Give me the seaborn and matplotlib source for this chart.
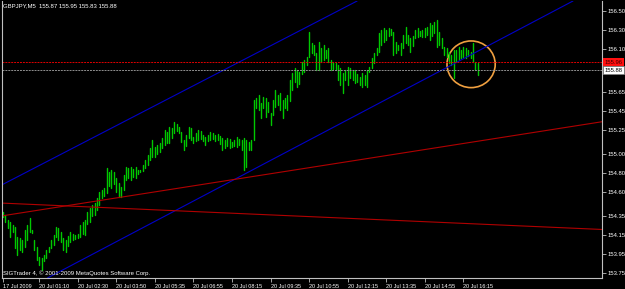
import numpy as np
import pandas as pd
import matplotlib
matplotlib.use("Agg")
import matplotlib.pyplot as plt
import matplotlib.transforms as mtransforms
from matplotlib.patches import Ellipse
import seaborn as sns

# ---------------- data ----------------
symbol_header = "GBPJPY,M5  155.87 155.95 155.83 155.88"
copyright_text = "SIGTrader 4, \u00a9 2001-2009 MetaQuotes Software Corp."

highs = [154.39,154.36,154.31,154.28,154.25,154.23,154.13,154.12,154.10,154.20,
         154.25,154.33,154.20,154.10,154.02,153.92,153.91,153.94,153.99,154.02,
         154.10,154.15,154.23,154.22,154.18,154.12,154.10,154.14,154.18,154.16,
         154.15,154.16,154.25,154.28,154.31,154.39,154.43,154.46,154.48,154.54,
         154.60,154.62,154.64,154.85,154.81,154.83,154.81,154.75,154.69,154.65,
         154.78,154.86,154.85,154.86,154.84,154.86,154.83,154.83,154.88,154.94,
         154.99,155.06,155.15,155.07,155.09,155.11,155.17,155.25,155.23,155.28,
         155.27,155.33,155.31,155.28,155.23,155.15,155.20,155.28,155.27,155.18,
         155.22,155.25,155.24,155.20,155.18,155.20,155.23,155.22,155.20,155.21,
         155.19,155.17,155.15,155.17,155.16,155.12,155.15,155.18,155.16,155.14,
         155.17,155.15,155.12,155.15,155.57,155.59,155.62,155.53,155.60,155.59,
         155.54,155.43,155.57,155.67,155.62,155.64,155.57,155.59,155.62,155.78,
         155.85,155.90,155.88,155.86,155.96,155.99,156.02,156.28,156.16,156.14,
         156.06,156.17,156.11,156.14,156.09,156.11,155.99,155.96,155.95,155.93,
         155.90,155.85,155.88,155.91,155.90,155.88,155.88,155.84,155.81,155.85,
         155.83,155.88,155.91,156.01,156.06,156.11,156.27,156.30,156.32,156.30,
         156.32,156.31,156.28,156.17,156.14,156.16,156.25,156.33,156.25,156.22,
         156.24,156.30,156.32,156.29,156.30,156.32,156.33,156.37,156.35,156.38,
         156.41,156.28,156.22,156.12,156.11,156.07,156.04,156.09,156.09,156.12,
         156.09,156.12,156.11,156.09,156.07,156.16,155.96,155.95]

lows = [154.34,154.28,154.22,154.13,154.18,154.01,153.94,153.99,153.97,154.02,
        154.10,154.18,154.17,153.99,153.89,153.83,153.78,153.87,153.91,153.97,
        154.01,154.04,154.13,154.10,154.07,153.99,153.97,154.03,154.07,154.10,
        154.11,154.12,154.13,154.16,154.15,154.26,154.28,154.35,154.36,154.41,
        154.46,154.54,154.56,154.59,154.66,154.64,154.68,154.60,154.55,154.55,
        154.62,154.73,154.75,154.73,154.76,154.75,154.79,154.81,154.82,154.85,
        154.88,154.94,154.97,154.97,155.00,155.02,155.06,155.09,155.11,155.11,
        155.17,155.22,155.24,155.22,155.12,155.04,155.08,155.17,155.15,155.11,
        155.13,155.15,155.16,155.13,155.09,155.13,155.15,155.16,155.13,155.14,
        155.10,155.04,155.06,155.08,155.06,155.07,155.08,155.07,155.09,155.04,
        154.83,154.86,155.04,155.04,155.15,155.48,155.46,155.38,155.48,155.39,
        155.44,155.30,155.41,155.49,155.51,155.46,155.38,155.48,155.46,155.55,
        155.67,155.75,155.70,155.73,155.84,155.86,155.93,156.02,156.06,156.04,
        155.88,155.88,155.96,155.99,156.01,155.96,155.88,155.89,155.88,155.78,
        155.72,155.64,155.78,155.72,155.80,155.78,155.74,155.75,155.72,155.70,
        155.72,155.70,155.86,155.90,155.95,156.04,156.07,156.14,156.17,156.20,
        156.24,156.25,156.04,156.06,156.09,156.04,156.11,156.16,156.14,156.07,
        156.13,156.22,156.23,156.24,156.23,156.23,156.25,156.20,156.24,156.27,
        156.12,156.14,156.11,156.04,156.02,155.95,155.93,155.80,155.96,155.99,
        156.01,156.02,156.01,156.03,156.01,155.96,155.88,155.83]

# time-axis labels (bar index -> label)
xtick_bars = [0, 15, 31, 47, 63, 79, 95, 111, 127, 143, 159, 175, 191]
xtick_labels = ["17 Jul 2009", "20 Jul 01:10", "20 Jul 02:30", "20 Jul 03:50",
                "20 Jul 05:35", "20 Jul 06:55", "20 Jul 08:15", "20 Jul 09:35",
                "20 Jul 10:55", "20 Jul 12:15", "20 Jul 13:35", "20 Jul 14:55",
                "20 Jul 16:15"]
ytick_prices = [156.50, 156.30, 156.10, 155.65, 155.45, 155.25, 155.00,
                154.80, 154.60, 154.35, 154.15, 153.95, 153.75]

# trend lines: (bar0, price0, bar1, price1)
blue_upper = (0, 154.68, 140, 156.514)
blue_lower = (0, 153.45, 200, 156.118)
red_rising = (0, 154.35, 240, 155.303)
red_falling = (0, 154.482, 240, 154.215)

ask_price = 155.96
bid_price = 155.88

# highlight circle (centre bar, centre price, width in bars, height in price)
circle_spec = (194.2, 155.94, 20.0, 0.49)

# ---------------- plotting ----------------
sns.set_theme(style="dark")
plt.rcParams["font.family"] = ["Liberation Sans", "DejaVu Sans"]

fig = plt.figure(figsize=(6.25, 2.89), dpi=100, facecolor="black")
ax = fig.add_axes([2 / 625, 11 / 289, 600 / 625, 277 / 289], facecolor="black")

n = len(highs)
bars = np.arange(n)
df = pd.DataFrame({
    "bar": np.repeat(bars, 2),
    "price": np.column_stack([highs, lows]).ravel(),
})
sns.lineplot(data=df, x="bar", y="price", units="bar", estimator=None,
             sort=False, color="#00c800", lw=1.0, ax=ax, legend=False)

for (b0, p0, b1, p1), col in [(blue_upper, "#0000c8"), (blue_lower, "#0000c8"),
                             (red_rising, "#b00000"), (red_falling, "#b00000")]:
    ax.axline((b0, p0), (b1, p1), color=col, lw=0.8)

ax.axhline(ask_price, color="#e00000", lw=0.7, ls=(0, (2, 1)))
ax.axhline(bid_price, color="#909090", lw=0.7, ls=(0, (2, 1)))

cx, cy, cw, ch = circle_spec
ax.add_patch(Ellipse((cx, cy), cw, ch, fill=False, ec="#f0a040", lw=1.2))

ax.set_xlim(-0.415, 248.5)
ax.set_ylim(153.696, 156.6045)
ax.set_xlabel("")
ax.set_ylabel("")
ax.grid(False)

ax.yaxis.tick_right()
ax.set_yticks(ytick_prices)
ax.set_yticklabels([f"{v:.2f}" for v in ytick_prices])
ax.tick_params(axis="y", colors="#c0c0c0", labelcolor="white", labelsize=4.2,
               length=3, width=0.6, pad=1.2, direction="out", right=True, left=False)

ax.set_xticks(xtick_bars)
ax.set_xticklabels(xtick_labels)
ax.tick_params(axis="x", colors="#c0c0c0", labelcolor="white", labelsize=4.0,
               length=3, width=0.6, pad=1.2, direction="out", bottom=True)
for lbl in ax.get_xticklabels():
    lbl.set_ha("left")

for side in ["left", "bottom", "right"]:
    ax.spines[side].set_visible(True)
    ax.spines[side].set_color("#c0c0c0")
    ax.spines[side].set_linewidth(0.8)
ax.spines["top"].set_visible(False)

fig.text(3 / 625, 1 - 6 / 289, symbol_header, color="white", fontsize=4.3,
         ha="left", va="center")
fig.text(3 / 625, 1 - 273 / 289, copyright_text, color="white", fontsize=4.3,
         ha="left", va="center")

tr = mtransforms.blended_transform_factory(ax.transAxes, ax.transData)
ax.text(1.004, ask_price, f"{ask_price:.2f}", transform=tr, color="#3a0000",
        fontsize=4.2, ha="left", va="center", clip_on=False,
        bbox=dict(boxstyle="square,pad=0.25", fc="#ff1010", ec="none"))
ax.text(1.004, bid_price, f"{bid_price:.2f}", transform=tr, color="black",
        fontsize=4.2, ha="left", va="center", clip_on=False,
        bbox=dict(boxstyle="square,pad=0.25", fc="white", ec="#808080", lw=0.5))

fig.savefig("out.png", dpi=100, facecolor="black")
